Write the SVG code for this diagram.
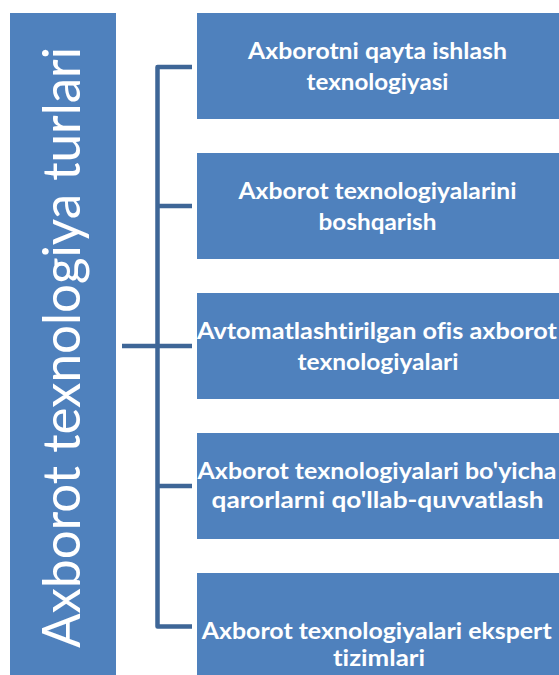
<svg xmlns="http://www.w3.org/2000/svg" width="559" height="675" viewBox="0 0 559 675">
<style>
.box{fill:#4F81BD;}
.t{font-family:Lato,"Open Sans","Liberation Sans",sans-serif;font-weight:bold;font-size:22px;fill:#FFFFFF;text-anchor:middle;font-variant-ligatures:none;}
.big{font-family:Lato,"Open Sans","Liberation Sans",sans-serif;font-size:53px;fill:#FFFFFF;text-anchor:middle;font-variant-ligatures:none;}
.conn{fill:none;stroke:#3E6697;stroke-width:4.5;stroke-linejoin:round;}
</style>
<rect width="559" height="675" fill="#FFFFFF"/>
<g id="root">
<rect class="box" x="10" y="13" width="106" height="670"/>
<text class="big" transform="translate(80,347.5) rotate(-90)" x="0" y="0" textLength="601" lengthAdjust="spacingAndGlyphs">Axborot texnologiya turlari</text>
</g>
<g id="connectors">
<path class="conn" d="M192,67 H157.5 V626.5 H192"/>
<path class="conn" d="M122,346 H192"/>
<path class="conn" d="M157.5,206 H192"/>
<path class="conn" d="M157.5,486 H192"/>
</g>
<g id="n1">
<rect class="box" x="197" y="13" width="370" height="106"/>
<text class="t" x="377.5" y="59" textLength="259" lengthAdjust="spacingAndGlyphs">Axborotni qayta ishlash</text>
<text class="t" x="377.5" y="90" textLength="142" lengthAdjust="spacingAndGlyphs">texnologiyasi</text>
</g>
<g id="n2">
<rect class="box" x="197" y="153" width="370" height="106"/>
<text class="t" x="377.5" y="198.5" textLength="278" lengthAdjust="spacingAndGlyphs">Axborot texnologiyalarini</text>
<text class="t" x="377.5" y="230" textLength="118" lengthAdjust="spacingAndGlyphs">boshqarish</text>
</g>
<g id="n3">
<rect class="box" x="197" y="293" width="370" height="106"/>
<text class="t" x="377" y="338.5" textLength="360" lengthAdjust="spacingAndGlyphs">Avtomatlashtirilgan ofis axborot</text>
<text class="t" x="378" y="370" textLength="161" lengthAdjust="spacingAndGlyphs">texnologiyalari</text>
</g>
<g id="n4">
<rect class="box" x="197" y="433" width="370" height="106"/>
<text class="t" x="377" y="478.5" textLength="359" lengthAdjust="spacingAndGlyphs">Axborot texnologiyalari bo'yicha</text>
<text class="t" x="377.5" y="507.5" textLength="332" lengthAdjust="spacingAndGlyphs">qarorlarni qo'llab-quvvatlash</text>
</g>
<g id="n5">
<rect class="box" x="197" y="573" width="370" height="110"/>
<text class="t" x="376.7" y="639" textLength="350" lengthAdjust="spacingAndGlyphs">Axborot texnologiyalari ekspert</text>
<text class="t" x="379" y="665.5" textLength="92" lengthAdjust="spacingAndGlyphs">tizimlari</text>
</g>
</svg>
